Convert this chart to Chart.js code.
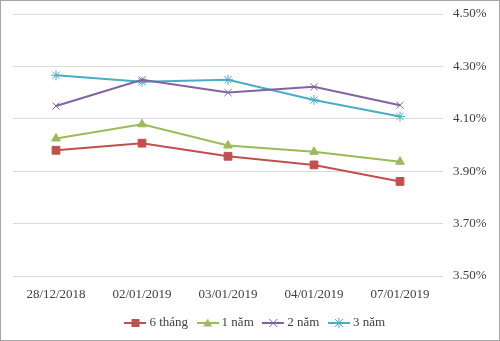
<!DOCTYPE html>
<html>
<head>
<meta charset="utf-8">
<script src="https://cdn.jsdelivr.net/npm/chart.js@4/dist/chart.umd.min.js"></script>
<style>
  html, body { margin: 0; padding: 0; background: #fff; }
  #wrap { position: relative; width: 500px; height: 341px; }
  #frame { position: absolute; left: 0; top: 0; width: 500px; height: 341px;
           box-sizing: border-box; border: 1px solid #a6a6a6; pointer-events: none; }
</style>
</head>
<body>
<div id="wrap">
  <canvas id="rateChart" width="500" height="341"></canvas>
  <div id="frame"></div>
</div>
<script>
// Ngày quan sát
const labels = ['28/12/2018', '02/01/2019', '03/01/2019', '04/01/2019', '07/01/2019'];

// Lợi suất theo kỳ hạn (%)
const sauThang = [3.980, 4.007, 3.957, 3.924, 3.861];
const motNam = [4.025, 4.079, 3.998, 3.974, 3.936];
const haiNam = [4.149, 4.249, 4.200, 4.222, 4.152];
const baNam = [4.266, 4.241, 4.249, 4.172, 4.109];

// Vạch trục tung
const yTicks = [3.5, 3.7, 3.9, 4.1, 4.3, 4.5];

const FONT = { family: '"Liberation Serif", "Times New Roman", serif', size: 13 };
const TEXT = '#404040';

// vẽ biểu tượng chú thích: đường + điểm
function legendIcon(color, style) {
  const c = document.createElement('canvas');
  c.width = 22; c.height = 12;
  const g = c.getContext('2d');
  g.strokeStyle = color; g.fillStyle = color; g.lineWidth = 2;
  g.beginPath(); g.moveTo(0, 6); g.lineTo(22, 6); g.stroke();
  g.lineWidth = 1;
  const x = 11, y = 6, r = 4;
  g.beginPath();
  if (style === 'rect') {
    g.fillRect(x - 4, y - 4, 8, 8);
  } else if (style === 'triangle') {
    g.moveTo(x, y - 4.5); g.lineTo(x + 4.5, y + 3.5); g.lineTo(x - 4.5, y + 3.5); g.closePath(); g.fill();
  } else if (style === 'crossRot') {
    g.moveTo(x - r, y - r); g.lineTo(x + r, y + r);
    g.moveTo(x + r, y - r); g.lineTo(x - r, y + r); g.stroke();
  } else {
    g.moveTo(x - r, y - r); g.lineTo(x + r, y + r);
    g.moveTo(x + r, y - r); g.lineTo(x - r, y + r);
    g.moveTo(x, y - 5); g.lineTo(x, y + 5); g.stroke();
  }
  return c;
}

function ds(label, data, color, style, radius) {
  return {
    label: label,
    data: data,
    borderColor: color,
    backgroundColor: color,
    borderWidth: 2,
    pointStyle: style,
    pointRadius: radius,
    pointBorderWidth: 1,
    tension: 0,
    icon: legendIcon(color, style)
  };
}

const ctx = document.getElementById('rateChart').getContext('2d');

const rateChart = new Chart(ctx, {
  type: 'line',
  data: {
    labels: labels,
    datasets: [
      ds('6 tháng', sauThang, '#C0504D', 'rect', 5.5),
      ds('1 năm', motNam, '#9BBB59', 'triangle', 5),
      ds('2 năm', haiNam, '#8064A2', 'crossRot', 5),
      ds('3 năm', baNam, '#4BACC6', 'star', 5)
    ]
  },
  options: {
    responsive: false,
    animation: false,
    layout: { padding: { left: 13, top: 14, right: 0, bottom: 1.5 } },
    plugins: {
      tooltip: { enabled: false },
      legend: {
        position: 'bottom',
        labels: {
          font: FONT,
          color: TEXT,
          usePointStyle: true,
          pointStyleWidth: 15,
          padding: 12,
          generateLabels: function (chart) {
            const items = Chart.defaults.plugins.legend.labels.generateLabels(chart);
            items.forEach(function (it) {
              it.pointStyle = chart.data.datasets[it.datasetIndex].icon;
            });
            return items;
          }
        }
      }
    },
    scales: {
      x: {
        offset: true,
        grid: { display: false, drawTicks: false },
        border: { display: false },
        ticks: { font: FONT, color: TEXT, padding: 11, maxRotation: 0 },
        afterFit: function (s) { s.height = 28.5; }
      },
      y: {
        position: 'right',
        min: 3.5,
        max: 4.5,
        afterBuildTicks: function (s) { s.ticks = yTicks.map(function (v) { return { value: v }; }); },
        grid: { color: '#d9d9d9', lineWidth: 1, drawTicks: true, tickLength: 7, tickColor: 'rgba(0,0,0,0)' },
        border: { display: false },
        ticks: {
          font: FONT, color: TEXT, padding: 3,
          callback: function (v) { return v.toFixed(2) + '%'; }
        },
        afterFit: function (s) { s.width = 57; }
      }
    }
  }
});
</script>
</body>
</html>
